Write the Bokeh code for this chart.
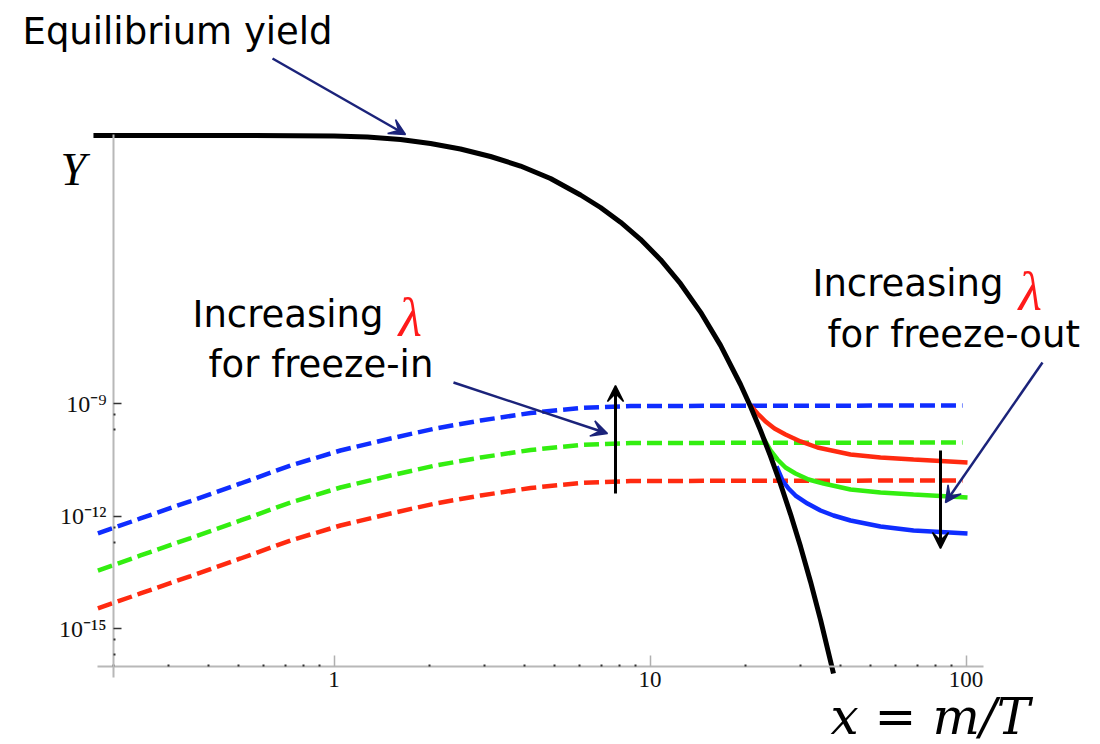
from bokeh.plotting import figure
from bokeh.models import Range1d, LogAxis, FixedTicker, Label, Arrow, VeeHead
from bokeh.core.properties import value
from bokeh.embed import file_html
from bokeh.resources import INLINE

# ---------------- data ----------------
eq_x = [0.1733, 0.5442, 1.0, 1.276, 1.623, 2.020, 2.513, 3.128, 3.893, 4.843, 6.028,
        6.973, 8.066, 9.331, 10.80, 12.49, 14.45, 16.72, 19.34, 20.80, 22.37, 24.06,
        25.88, 27.84, 29.95, 32.21, 34.64, 38.08]
eq_y = [1.401e-2, 1.401e-2, 1.359e-2, 1.278e-2, 1.096e-2, 8.58e-3, 6.12e-3, 3.86e-3,
        2.15e-3, 1.0e-3, 3.63e-4, 1.685e-4, 6.84e-5, 2.39e-5, 6.84e-6, 1.565e-6,
        2.74e-7, 3.54e-8, 3.21e-9, 8.32e-10, 1.918e-10, 3.96e-11, 7.13e-12,
        1.124e-12, 1.528e-13, 1.77e-14, 1.727e-15, 6.31e-17]

fi_x = [0.179, 0.244, 0.352, 0.506, 0.728, 1.048, 1.51, 2.095, 2.91, 4.19, 6.03, 8.68, 97.5]
blue_in = [3.42e-13, 8.59e-13, 2.51e-12, 7.36e-12, 2.22e-11, 5.58e-11, 1.167e-10, 2.16e-10,
           3.52e-10, 5.58e-10, 7.59e-10, 8.59e-10, 8.85e-10]
green_in = [3.52e-14, 8.85e-14, 2.59e-13, 7.59e-13, 2.29e-12, 5.75e-12, 1.20e-11, 2.22e-11,
            3.63e-11, 5.75e-11, 7.82e-11, 8.85e-11, 9.12e-11]
red_in = [3.42e-15, 8.59e-15, 2.51e-14, 7.36e-14, 2.22e-13, 5.58e-13, 1.167e-12, 2.16e-12,
          3.52e-12, 5.58e-12, 7.59e-12, 8.59e-12, 8.85e-12]

red_out_x = [20.80, 21.89, 23.21, 24.77, 26.84, 29.95, 33.89, 43.11, 53.63, 68.23, 101.1]
red_out = [8.84e-10, 5.41e-10, 3.31e-10, 2.15e-10, 1.49e-10, 9.70e-11, 6.71e-11, 4.37e-11,
           3.63e-11, 3.21e-11, 2.67e-11]
green_out_x = [22.87, 24.06, 25.32, 26.84, 28.87, 31.74, 35.41, 43.11, 53.63, 68.23, 101.1]
green_out = [1.166e-10, 5.58e-11, 3.21e-11, 1.965e-11, 1.36e-11, 9.40e-12, 7.36e-12,
             5.09e-12, 4.23e-12, 3.74e-12, 3.11e-12]
blue_out_x = [25.14, 26.26, 27.44, 28.87, 31.51, 34.64, 38.08, 43.11, 53.63, 68.23, 101.1]
blue_out = [2.09e-11, 8.84e-12, 5.41e-12, 3.52e-12, 2.15e-12, 1.40e-12, 1.03e-12, 7.59e-13,
            5.25e-13, 4.10e-13, 3.42e-13]

x_ticks = [1, 10, 100]
x_tick_labels = ["1", "10", "100"]
x_minor = [0.2, 0.3, 0.4, 0.5, 0.6, 0.7, 0.8, 0.9, 2, 3, 4, 5, 6, 7, 8, 9,
           20, 30, 40, 50, 60, 70, 80, 90]
y_ticks = [1e-15, 1e-12, 1e-9]
y_tick_labels = ["10\u207b\u00b9\u2075", "10\u207b\u00b9\u00b2", "10\u207b\u2079"]
y_minor = [2e-16, 5e-16, 2e-13, 5e-13, 2e-10, 5e-10]

# ---------------- layout helpers (pixel position -> data position) ----------------
def dx(px):
    return 10 ** ((px - 333.5) / 316.0)


def dy(py):
    return 10 ** (-9 - (py - 403.0) / 37.5)


BLUE = "#0f2dff"
GREEN = "#33ee10"
RED = "#ff2a10"
NAVY = "#1b237a"
SERIF = "Liberation Serif"
TXT = "DejaVu Sans"

p = figure(width=1100, height=744, x_axis_type="log", y_axis_type="log",
           x_axis_location=None, y_axis_location=None,
           x_range=Range1d(dx(0), dx(1100)), y_range=Range1d(dy(744), dy(0)),
           output_backend="svg", toolbar_location=None,
           min_border_left=0, min_border_bottom=0, min_border_top=0, min_border_right=0)
p.outline_line_color = None
p.background_fill_color = "white"
p.border_fill_color = "white"
p.grid.visible = False

axis_common = dict(axis_line_color="#b8b8b8", axis_line_width=2,
                   major_label_text_font_size="1px", major_label_text_alpha=0.0,
                   major_label_standoff=0,
                   minor_tick_in=2, minor_tick_out=0, minor_tick_line_color="#333333",
                   minor_tick_line_width=2, major_tick_out=0, major_tick_line_width=1.5)

yaxis = LogAxis(fixed_location=0.2, bounds=(dy(677), dy(134)),
                ticker=FixedTicker(ticks=y_ticks, minor_ticks=y_minor),
                major_tick_in=8, major_tick_line_color="#333333", **axis_common)
p.add_layout(yaxis, "left")

xaxis = LogAxis(fixed_location=dy(665.5), bounds=(dx(97), dx(983)),
                ticker=FixedTicker(ticks=x_ticks, minor_ticks=x_minor),
                major_tick_in=11, major_tick_line_color="#b0b0b0", **axis_common)
p.add_layout(xaxis, "below")

# tick labels at the tick values
p.text(x=x_ticks, y=[dy(671)] * len(x_ticks), text=x_tick_labels,
       text_font=value(SERIF), text_font_size="23px", text_align="center",
       text_baseline="top", text_color="#111111")
p.text(x=[dx(106)] * len(y_ticks), y=y_ticks, text=y_tick_labels,
       text_font=value(SERIF), text_font_size="24px", text_align="right",
       text_baseline="middle", text_color="#111111")

# freeze-in (dashed)
for ys, c in [(blue_in, BLUE), (green_in, GREEN), (red_in, RED)]:
    p.line(fi_x, ys, line_color=c, line_width=4.5, line_dash="15 6")

# freeze-out (solid)
for xs, ys, c in [(red_out_x, red_out, RED), (green_out_x, green_out, GREEN),
                  (blue_out_x, blue_out, BLUE)]:
    p.line(xs, ys, line_color=c, line_width=4.5)

# equilibrium
p.line(eq_x, eq_y, line_color="black", line_width=5)

# ---------------- annotations ----------------
BASE_SHIFT = 14  # the label anchor sits this far above the drawn baseline


def label(px, py, text, color="black", font=TXT, size="37px", style="normal"):
    p.add_layout(Label(x=dx(px), y=dy(py - BASE_SHIFT), text=text, text_color=color,
                       text_font=font, text_font_size=size, text_font_style=style,
                       text_baseline="alphabetic", text_align="left"))


label(22, 45, "Equilibrium yield")
label(192, 328, "Increasing")
label(398, 331, "\u03bb", color="#ff1a1a", font=SERIF, size="54px", style="italic")
label(208, 378, "for freeze-in")
label(812, 297, "Increasing")
label(1018, 305, "\u03bb", color="#ff1a1a", font=SERIF, size="54px", style="italic")
label(827, 348, "for freeze-out")
label(60, 183, "Y", font=SERIF, size="46px", style="italic")
label(830, 730, "x = m/T", font="DejaVu Serif", size="50px", style="italic")


def arrow(x0, y0, x1, y1, color, w=2.5, size=16):
    p.add_layout(Arrow(end=VeeHead(size=size, fill_color=color, line_color=color, line_width=1.5),
                       x_start=dx(x0), y_start=dy(y0), x_end=dx(x1), y_end=dy(y1),
                       line_color=color, line_width=w))


arrow(272, 58, 405, 134, NAVY)
arrow(453, 382, 607, 433, NAVY)
arrow(1042, 362, 945, 502, NAVY)
arrow(615, 493, 615, 385, "black", 3)
arrow(940, 450, 940, 548, "black", 3)

open("out.html", "w").write(file_html(p, INLINE))
